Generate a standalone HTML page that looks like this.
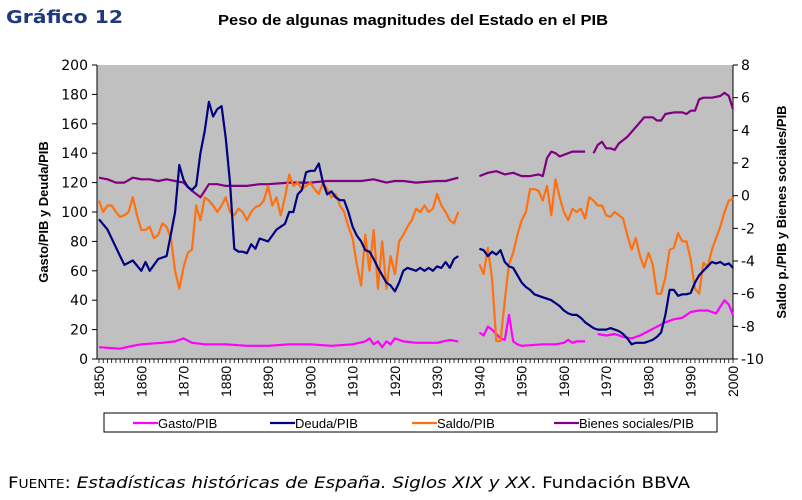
<!DOCTYPE html>
<html><head><meta charset="utf-8"><style>
body{margin:0;background:#fff;width:802px;height:495px;overflow:hidden;font-family:"Liberation Sans",sans-serif}
</style></head><body>
<svg id="chart" width="802" height="495" xmlns="http://www.w3.org/2000/svg">
<text x="6" y="23" font-family="DejaVu Sans,sans-serif" font-weight="bold" font-size="18" textLength="117" lengthAdjust="spacingAndGlyphs" fill="#1f3a7a">Gráfico 12</text>
<text x="218" y="25" font-weight="bold" font-size="15" textLength="390" lengthAdjust="spacingAndGlyphs" fill="#000">Peso de algunas magnitudes del Estado en el PIB</text>
<rect x="97" y="65" width="636" height="294" fill="#c0c0c0"/>
<g id="axes"></g>
<g id="series"></g>
<text transform="translate(48,212) rotate(-90)" text-anchor="middle" font-weight="bold" font-size="13">Gasto/PIB y Deuda/PIB</text>
<text transform="translate(786,212) rotate(-90)" text-anchor="middle" font-weight="bold" font-size="13">Saldo p./PIB y Bienes sociales/PIB</text>
<rect x="104" y="413" width="613" height="19" fill="#fff" stroke="#000" stroke-width="1"/>
<g id="legend"></g>
<text x="8" y="488" font-family="DejaVu Sans,sans-serif" font-size="16" textLength="682" lengthAdjust="spacingAndGlyphs" fill="#000">F<tspan font-size="12">UENTE</tspan>: <tspan font-style="italic">Estadísticas históricas de España. Siglos XIX y XX</tspan>. Fundación BBVA</text>
</svg>
<script>
const gastoYears=[1850,1855,1858,1860,1865,1868,1870,1872,1875,1880,1885,1890,1895,1900,1905,1910,1913,1914,1915,1916,1917,1918,1919,1920,1922,1925,1930,1933,1935,null,1940,1941,1942,1943,1944,1945,1946,1947,1948,1949,1950,1955,1958,1960,1961,1962,1963,1965,null,1968,1970,1972,1974,1976,1978,1980,1982,1984,1986,1988,1990,1992,1994,1996,1998,1999,2000];
const gastoValues=[8,7,9,10,11,12,14,11,10,10,9,9,10,10,9,10,12,14,10,12,8,12,10,14,12,11,11,13,12,null,18,16,22,20,17,14,13,30,12,10,9,10,10,11,13,11,12,12,null,17,16,17,15,14,16,19,22,25,27,28,32,33,33,31,40,37,30];
const deudaYears=[1850,1852,1855,1856,1858,1860,1861,1862,1864,1866,1867,1868,1869,1870,1871,1872,1873,1874,1875,1876,1877,1878,1879,1880,1881,1882,1883,1884,1885,1886,1887,1888,1889,1890,1891,1892,1893,1894,1895,1896,1897,1898,1899,1900,1901,1902,1903,1904,1905,1906,1907,1908,1909,1910,1911,1912,1913,1914,1915,1916,1917,1918,1919,1920,1921,1922,1923,1924,1925,1926,1927,1928,1929,1930,1931,1932,1933,1934,1935,null,1940,1941,1942,1943,1944,1945,1946,1947,1948,1949,1950,1951,1952,1953,1954,1955,1956,1957,1958,1959,1960,1961,1962,1963,1964,1965,1966,1967,1968,1969,1970,1971,1972,1973,1974,1975,1976,1977,1978,1979,1980,1981,1982,1983,1984,1985,1986,1987,1988,1989,1990,1991,1992,1993,1994,1995,1996,1997,1998,1999,2000];
const deudaValues=[95,88,70,64,67,60,66,60,68,70,85,100,132,122,117,115,118,140,155,175,165,170,172,150,120,75,73,73,72,78,75,82,81,80,84,88,90,92,100,100,112,115,127,128,128,133,120,112,114,110,108,108,100,90,84,80,74,73,68,62,57,52,50,46,52,60,62,61,60,62,60,62,60,63,62,66,62,68,70,null,75,74,70,73,71,74,66,63,62,57,52,49,47,44,43,42,41,40,38,36,33,31,30,30,28,25,23,21,20,20,20,21,20,19,17,14,10,11,11,11,12,13,15,18,30,47,47,43,44,44,45,52,57,60,63,66,65,66,64,65,62];
const saldoYears=[1850,1851,1852,1853,1854,1855,1856,1857,1858,1859,1860,1861,1862,1863,1864,1865,1866,1867,1868,1869,1870,1871,1872,1873,1874,1875,1876,1877,1878,1879,1880,1881,1882,1883,1884,1885,1886,1887,1888,1889,1890,1891,1892,1893,1894,1895,1896,1897,1898,1899,1900,1901,1902,1903,1904,1905,1906,1907,1908,1909,1910,1911,1912,1913,1914,1915,1916,1917,1918,1919,1920,1921,1922,1923,1924,1925,1926,1927,1928,1929,1930,1931,1932,1933,1934,1935,null,1940,1941,1942,1943,1944,1945,1946,1947,1948,1949,1950,1951,1952,1953,1954,1955,1956,1957,1958,1959,1960,1961,1962,1963,1964,1965,1966,1967,1968,1969,1970,1971,1972,1973,1974,1975,1976,1977,1978,1979,1980,1981,1982,1983,1984,1985,1986,1987,1988,1989,1990,1991,1992,1993,1994,1995,1996,1997,1998,1999,2000];
const saldoValues=[-0.3,-1.0,-0.6,-0.6,-1.0,-1.3,-1.2,-1.0,-0.1,-1.2,-2.1,-2.1,-1.9,-2.6,-2.4,-1.7,-1.9,-2.6,-4.6,-5.7,-4.4,-3.5,-3.3,-0.6,-1.5,-0.1,-0.3,-0.6,-1.0,-0.6,-0.1,-1.0,-1.2,-0.8,-1.0,-1.5,-1.0,-0.7,-0.6,-0.3,0.6,-0.6,-0.1,-1.2,-0.1,1.3,0.6,0.8,0.4,0.6,0.8,0.4,0.1,0.8,0.4,-0.1,0.1,-0.6,-1.0,-1.9,-2.6,-4.2,-5.5,-2.4,-4.6,-2.1,-5.7,-2.8,-5.7,-3.7,-4.8,-2.8,-2.4,-1.9,-1.5,-0.8,-1.0,-0.6,-1.0,-0.8,0.1,-0.6,-1.0,-1.5,-1.7,-1.0,null,-4.2,-4.8,-3.2,-5.1,-8.9,-8.9,-6.4,-4.2,-3.5,-2.4,-1.5,-1.0,0.4,0.4,0.3,-0.3,0.6,-1.2,1.0,-0.1,-1.0,-1.5,-0.8,-1.0,-0.8,-1.4,-0.1,-0.3,-0.6,-0.6,-1.2,-1.3,-1.0,-1.2,-1.4,-2.4,-3.3,-2.6,-3.7,-4.4,-3.5,-4.2,-6.0,-6.0,-5.0,-3.3,-3.2,-2.3,-2.8,-2.8,-3.9,-5.7,-6.0,-4.1,-4.4,-3.3,-2.6,-1.9,-1.0,-0.3,-0.2];
const bienesYears=[1850,1852,1854,1856,1858,1860,1862,1864,1866,1868,1870,1872,1874,1875,1876,1878,1880,1885,1888,1890,1895,1900,1904,1908,1912,1915,1918,1920,1922,1925,1930,1932,1935,null,1940,1942,1944,1946,1948,1950,1952,1954,1955,1956,1957,1958,1959,1960,1962,1964,1965,null,1967,1968,1969,1970,1971,1972,1973,1975,1977,1979,1981,1982,1983,1984,1986,1988,1989,1990,1991,1992,1993,1995,1997,1998,1999,2000];
const bienesValues=[1.1,1.0,0.8,0.8,1.1,1.0,1.0,0.9,1.0,0.9,0.8,0.3,-0.1,0.3,0.7,0.7,0.6,0.6,0.7,0.7,0.8,0.8,0.9,0.9,0.9,1.0,0.8,0.9,0.9,0.8,0.9,0.9,1.1,null,1.2,1.4,1.5,1.3,1.4,1.2,1.2,1.3,1.2,2.3,2.7,2.6,2.4,2.5,2.7,2.7,2.7,null,2.6,3.1,3.3,2.9,2.9,2.8,3.2,3.6,4.2,4.8,4.8,4.6,4.6,5.0,5.1,5.1,5.0,5.2,5.2,5.9,6.0,6.0,6.1,6.3,6.1,5.3];
const leftTicks=[0,20,40,60,80,100,120,140,160,180,200];
const rightTicks=[-10,-8,-6,-4,-2,0,2,4,6,8];
const xTicks=[1850,1860,1870,1880,1890,1900,1910,1920,1930,1940,1950,1960,1970,1980,1990,2000];
const legendLabels=['Gasto/PIB','Deuda/PIB','Saldo/PIB','Bienes sociales/PIB'];

const NS='http://www.w3.org/2000/svg';
const X0=97,X1=733,Y0=359,Y1=65;
const xs=y=>X0+2+(y-1850)*(X1-X0-2)/150;
const yl=v=>Y0-(v/200)*(Y0-Y1);
const yr=v=>Y0-((v+10)/18)*(Y0-Y1);
function mk(tag,attrs,parent){const e=document.createElementNS(NS,tag);for(const k in attrs)e.setAttribute(k,attrs[k]);parent.appendChild(e);return e;}
const axes=document.getElementById('axes'),series=document.getElementById('series'),legend=document.getElementById('legend');
let a=mk('line',{x1:X0,y1:Y1,x2:X0,y2:Y0,stroke:'#000'},axes);


a=mk('line',{x1:X1,y1:Y1,x2:X1,y2:Y0,stroke:'#000'},axes);


a=mk('line',{x1:X0,y1:Y0,x2:X1,y2:Y0,stroke:'#000'},axes);


leftTicks.forEach(v=>{const y=yl(v);mk('line',{x1:X0-5,y1:y,x2:X0,y2:y,stroke:'#000'},axes);
const t=mk('text',{x:X0-9,y:y+5,'text-anchor':'end','font-size':'14','font-family':'DejaVu Sans,sans-serif'},axes);t.textContent=v;

});
rightTicks.forEach(v=>{const y=yr(v);mk('line',{x1:X1,y1:y,x2:X1+5,y2:y,stroke:'#000'},axes);
const t=mk('text',{x:X1+8,y:y+5,'font-size':'14','font-family':'DejaVu Sans,sans-serif'},axes);t.textContent=v;

});
for(let yy=1850;yy<=2000;yy++){mk('line',{x1:xs(yy),y1:Y0,x2:xs(yy),y2:Y0+4,stroke:'#000','stroke-width':0.8},axes);}
xTicks.forEach(v=>{const x=xs(v);const t=mk('text',{transform:`translate(${x+5},${Y0+38}) rotate(-90)`,'font-size':'14'},axes);t.textContent=v;

});
function draw(years,vals,scale,color,name){let d='',pen=false;
years.forEach((yy,i)=>{if(yy===null||vals[i]===null){pen=false;return;}d+=(pen?'L':'M')+xs(yy).toFixed(1)+' '+scale(vals[i]).toFixed(1)+' ';pen=true;});
const p=mk('path',{d:d,fill:'none',stroke:color,'stroke-width':2.2,'stroke-linejoin':'round'},series);

}
draw(bienesYears,bienesValues,yr,'#800080','bienes-line');
draw(gastoYears,gastoValues,yl,'#ff00ff','gasto-line');
draw(saldoYears,saldoValues,yr,'#ff7010','saldo-line');
draw(deudaYears,deudaValues,yl,'#000080','deuda-line');
const lc=['#ff00ff','#000080','#ff7010','#800080'],lx=[133,270,412,554];
legendLabels.forEach((l,i)=>{mk('line',{x1:lx[i],y1:423,x2:lx[i]+25,y2:423,stroke:lc[i],'stroke-width':2.2},legend);
const t=mk('text',{x:lx[i]+25,y:428,'font-size':'13'},legend);t.textContent=l;

});
</script>
</body></html>
